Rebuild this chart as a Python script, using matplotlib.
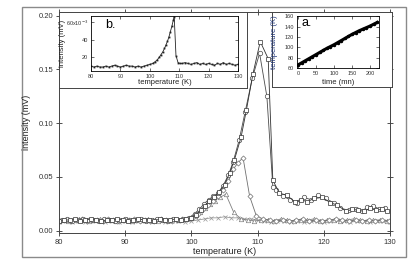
import matplotlib
matplotlib.use("Agg")
import matplotlib.pyplot as plt
from matplotlib.patches import Rectangle

plt.rcParams["font.family"] = ["Liberation Sans", "DejaVu Sans"]

# ---- main plot data (temperature in K, intensity in mV) ----
sq_t = [80, 80.8, 81.6, 82.4, 83.2, 84, 84.8, 85.6, 86.4, 87.2, 88, 88.8, 89.6,
        90.4, 91.2, 92, 92.8, 93.6, 94.4, 95.2, 96, 96.8, 97.6, 98.4, 99.2, 100,
        100.7, 101.4, 102.0, 102.7, 103.4, 104.2, 105.0, 105.8, 106.5, 107.5,
        108.3, 109.3, 110.4, 111.6, 112.3,
        113.3, 114.4, 115.6, 116.5, 117.5, 118.5, 119.8, 121.0, 122.0, 123.4,
        124.3, 125.2, 126.1, 127.0, 127.9, 128.8, 129.6]
sq_v = [0.009, 0.010, 0.010, 0.011, 0.009, 0.010, 0.011, 0.010, 0.009, 0.010,
        0.010, 0.011, 0.010, 0.009, 0.010, 0.011, 0.010, 0.010, 0.009, 0.011,
        0.010, 0.010, 0.011, 0.010, 0.011, 0.012,
        0.015, 0.019, 0.023, 0.028, 0.031, 0.036, 0.043, 0.054, 0.066, 0.087,
        0.112, 0.146, 0.176, 0.160, 0.047,
        0.035, 0.033, 0.027, 0.029, 0.027, 0.030, 0.031, 0.026, 0.024, 0.018,
        0.020, 0.019, 0.018, 0.021, 0.019, 0.020, 0.018]

ci_t = [80.4, 81.2, 82.0, 82.8, 83.6, 84.4, 85.2, 86.0, 86.8, 87.6, 88.4, 89.2,
        90.0, 90.8, 91.6, 92.4, 93.2, 94.0, 94.8, 95.6, 96.4, 97.2, 98.0, 98.8,
        99.6,
        100.5, 101.2, 101.9, 102.6, 103.3, 104.0, 104.8, 105.6, 106.3, 107.2,
        108.1, 109.2, 110.3, 111.4, 112.3,
        112.8, 113.8, 114.9, 116.0, 117.0, 118.0, 119.1, 120.3, 121.5, 122.5,
        123.8, 124.8, 125.7, 126.6, 127.5, 128.4, 129.3]
ci_v = [0.010, 0.011, 0.009, 0.010, 0.011, 0.010, 0.010, 0.009, 0.011, 0.010,
        0.009, 0.010, 0.011, 0.010, 0.010, 0.011, 0.009, 0.010, 0.011, 0.010,
        0.009, 0.011, 0.010, 0.011, 0.012,
        0.016, 0.020, 0.025, 0.029, 0.032, 0.035, 0.042, 0.052, 0.064, 0.084,
        0.110, 0.142, 0.165, 0.125, 0.041,
        0.038, 0.032, 0.029, 0.026, 0.031, 0.029, 0.033, 0.030, 0.026, 0.021,
        0.019, 0.020, 0.018, 0.022, 0.023, 0.020, 0.021]

di_t = [80.2, 81.0, 81.8, 82.6, 83.4, 84.2, 85.0, 85.8, 86.6, 87.4, 88.2, 89.0,
        89.8, 90.6, 91.4, 92.2, 93.0, 93.8, 94.6, 95.4, 96.2, 97.0, 97.8, 98.6,
        99.4,
        100.3, 101.0, 101.8, 102.5, 103.2, 104.0, 104.8, 105.6, 106.3, 107.0,
        107.8, 108.8, 109.8, 110.8,
        111.8, 112.8, 113.8, 114.8, 115.8, 116.8, 117.8, 118.8, 119.8, 120.8,
        121.8, 122.8, 123.8, 124.8, 125.8, 126.8, 127.8, 128.8, 129.8]
di_v = [0.009, 0.010, 0.009, 0.010, 0.011, 0.009, 0.010, 0.010, 0.009, 0.011,
        0.010, 0.009, 0.010, 0.010, 0.011, 0.009, 0.010, 0.009, 0.010, 0.011,
        0.010, 0.009, 0.010, 0.011, 0.011,
        0.013, 0.016, 0.020, 0.024, 0.028, 0.032, 0.038, 0.046, 0.057, 0.063,
        0.068, 0.032, 0.014, 0.011,
        0.010, 0.009, 0.010, 0.009, 0.010, 0.011, 0.009, 0.010, 0.009, 0.010,
        0.011, 0.010, 0.009, 0.010, 0.009, 0.010, 0.009, 0.010, 0.009]

tr_t = [80.6, 81.4, 82.2, 83.0, 83.8, 84.6, 85.4, 86.2, 87.0, 87.8, 88.6, 89.4,
        90.2, 91.0, 91.8, 92.6, 93.4, 94.2, 95.0, 95.8, 96.6, 97.4, 98.2, 99.0,
        99.8,
        100.6, 101.3, 102.0, 102.8, 103.5, 104.3, 105.2, 106.4, 107.5,
        108.5, 109.5, 110.5, 111.5, 112.5, 113.5, 114.5, 115.5, 116.5, 117.5,
        118.5, 119.5, 120.5, 121.5, 122.5, 123.5, 124.5, 125.5, 126.5, 127.5,
        128.5, 129.5]
tr_v = [0.010, 0.009, 0.010, 0.011, 0.010, 0.009, 0.010, 0.011, 0.010, 0.010,
        0.009, 0.010, 0.011, 0.009, 0.010, 0.010, 0.011, 0.010, 0.009, 0.010,
        0.010, 0.011, 0.010, 0.011, 0.012,
        0.014, 0.017, 0.021, 0.025, 0.028, 0.031, 0.034, 0.017, 0.011,
        0.010, 0.009, 0.010, 0.010, 0.009, 0.011, 0.010, 0.009, 0.010, 0.010,
        0.011, 0.009, 0.010, 0.010, 0.009, 0.010, 0.011, 0.010, 0.009, 0.010,
        0.010, 0.009]

xm_t = list(range(80, 131))
xm_v = [0.008, 0.009, 0.008, 0.009, 0.008, 0.009, 0.009, 0.008, 0.009, 0.008,
        0.009, 0.008, 0.009, 0.009, 0.008, 0.009, 0.008, 0.009, 0.009, 0.008,
        0.009,
        0.010, 0.011, 0.012, 0.012, 0.013, 0.012, 0.012, 0.011, 0.011, 0.010,
        0.009, 0.008, 0.009, 0.009, 0.008, 0.009, 0.008, 0.009, 0.009, 0.008,
        0.009, 0.010, 0.009, 0.008, 0.009, 0.009, 0.008, 0.009, 0.009, 0.008]

# ---- inset b: intensity (x1e-3 mV) vs temperature ----
b_t = [80, 81, 82, 83, 84, 85, 86, 87, 88, 89, 90, 91, 92, 93, 94, 95, 96, 97,
       98, 99, 100, 101, 101.8, 102.5, 103.2, 103.8, 104.4, 105.0, 105.5, 106.0,
       106.5, 107.0, 107.5, 108.0, 108.3, 108.9, 109.6, 110.3, 111.0, 112, 113,
       114, 115, 116, 117, 118, 119, 120, 121, 122, 123, 124, 125, 126, 127,
       128, 129, 130]
b_v = [10, 9, 10, 9, 9, 10, 9, 10, 11, 10, 9, 10, 11, 10, 10, 9, 10, 9, 10, 11,
       12, 13, 15, 17, 20, 23, 26, 30, 34, 38, 43, 49, 55, 62, 66, 22, 14, 13,
       13, 14, 13, 12, 13, 14, 12, 13, 12, 13, 12, 11, 13, 12, 14, 12, 13, 12,
       11, 12]

# ---- inset a: temperature (K) vs time (mn) ----
a_t = [0, 10, 20, 30, 40, 50, 60, 70, 80, 90, 100, 110, 120, 130, 140, 150,
       160, 170, 180, 190, 200, 210, 220]
a_v = [66, 70, 74, 78, 82, 86, 90, 94, 98, 101.5, 105, 109, 113, 117, 121, 125,
       128.5, 132, 135, 138, 141, 144.5, 148]

W, H = 420.0, 267.0


def box(x0, y0, x1, y1):
    # pixel box (top-left origin) -> figure fraction rect
    return [x0 / W, 1 - y1 / H, (x1 - x0) / W, (y1 - y0) / H]


fig = plt.figure(figsize=(4.2, 2.67), dpi=100)
fig.patches.append(Rectangle((22 / W, 1 - 257 / H), 384 / W, 250 / H,
                             transform=fig.transFigure, fill=False,
                             ec="#8a8a8a", lw=1.0))

ax = fig.add_axes(box(59, 12.3, 390, 233))
ms = 3.2
ax.plot(xm_t, xm_v, color="#999999", lw=0.6, marker="x", ms=2.6, mew=0.5)
ax.plot(tr_t, tr_v, color="#808080", lw=0.6, marker="^", ms=ms, mfc="white",
        mew=0.5)
ax.plot(di_t, di_v, color="#707070", lw=0.6, marker="D", ms=2.6, mfc="white",
        mew=0.5)
ax.plot(ci_t, ci_v, color="#4a4a4a", lw=0.6, marker="o", ms=ms, mfc="white",
        mew=0.5)
ax.plot(sq_t, sq_v, color="#303030", lw=0.6, marker="s", ms=ms, mfc="white",
        mew=0.5)
ax.set_xlim(80, 130)
ax.set_ylim(-0.0021, 0.2032)
ax.set_xticks([80, 90, 100, 110, 120, 130])
ax.set_yticks([0.0, 0.05, 0.10, 0.15, 0.20])
ax.set_yticklabels(["0.00", "0.05", "0.10", "0.15", "0.20"])
ax.tick_params(direction="inout", length=4, width=0.6, labelsize=5.5,
               top=True, right=True, colors="#333333", pad=2)
for s in ax.spines.values():
    s.set_color("#444444")
    s.set_linewidth(0.7)
fig.text(27 / W, 1 - 122 / H, "intensity (mV)", rotation=90, ha="center",
         va="center", fontsize=6.5, color="#222222")
fig.text(224.5 / W, 1 - 251 / H, "temperature (K)", ha="center", va="center",
         fontsize=6.5, color="#222222")

# inset b frame + axes
fb = fig.add_axes(box(59, 12.3, 247, 88))
fb.set_xticks([])
fb.set_yticks([])
for s in fb.spines.values():
    s.set_color("#444444")
    s.set_linewidth(0.7)
axb = fig.add_axes(box(91, 15.7, 238, 71))
axb.plot(b_t, b_v, color="#222222", lw=0.6, marker="s", ms=1.3, mew=0)
axb.set_xlim(80, 130)
axb.set_ylim(4.5, 67)
axb.set_xticks([80, 90, 100, 110, 120, 130])
axb.set_yticks([20, 40, 60])
axb.set_yticklabels(["20", "40", "60x10$^{-3}$"])
axb.tick_params(direction="in", length=2.5, width=0.5, labelsize=4,
                top=True, right=True, colors="#333333", pad=2)
for s in axb.spines.values():
    s.set_linewidth(0.6)
axb.text(0.13, 0.83, "b.", transform=axb.transAxes, fontsize=9,
         ha="center", va="center")
fig.text(63 / W, 1 - 43 / H, "intensity (mV)", rotation=90, ha="center",
         va="center", fontsize=5.5, color="#222222")
fig.text(164.5 / W, 1 - 83 / H, "temperature (K)", ha="center", va="center",
         fontsize=5.5, color="#222222")

# inset a frame + axes
fa = fig.add_axes(box(272, 12.3, 392, 87))
fa.set_xticks([])
fa.set_yticks([])
for s in fa.spines.values():
    s.set_color("#444444")
    s.set_linewidth(0.7)
axa = fig.add_axes(box(297, 15.7, 379, 68.3))
axa.plot(a_t, a_v, color="black", lw=2.2, marker="o", ms=1.5)
axa.set_xlim(-3, 225)
axa.set_ylim(59.4, 161)
axa.set_xticks([0, 50, 100, 150, 200])
axa.set_yticks([60, 80, 100, 120, 140, 160])
axa.tick_params(direction="in", length=2.5, width=0.5, labelsize=4,
                top=True, right=True, colors="#333333", pad=2)
for s in axa.spines.values():
    s.set_linewidth(0.6)
axa.text(0.12, 0.86, "a.", transform=axa.transAxes, fontsize=9,
         ha="center", va="center")
fig.text(275 / W, 1 - 42 / H, "temperature (K)", rotation=90, ha="center",
         va="center", fontsize=5.5, color="#1f3578")
fig.text(338 / W, 1 - 83 / H, "time (mn)", ha="center", va="center",
         fontsize=5.5, color="#222222")

fig.savefig("out.png", dpi=100)
